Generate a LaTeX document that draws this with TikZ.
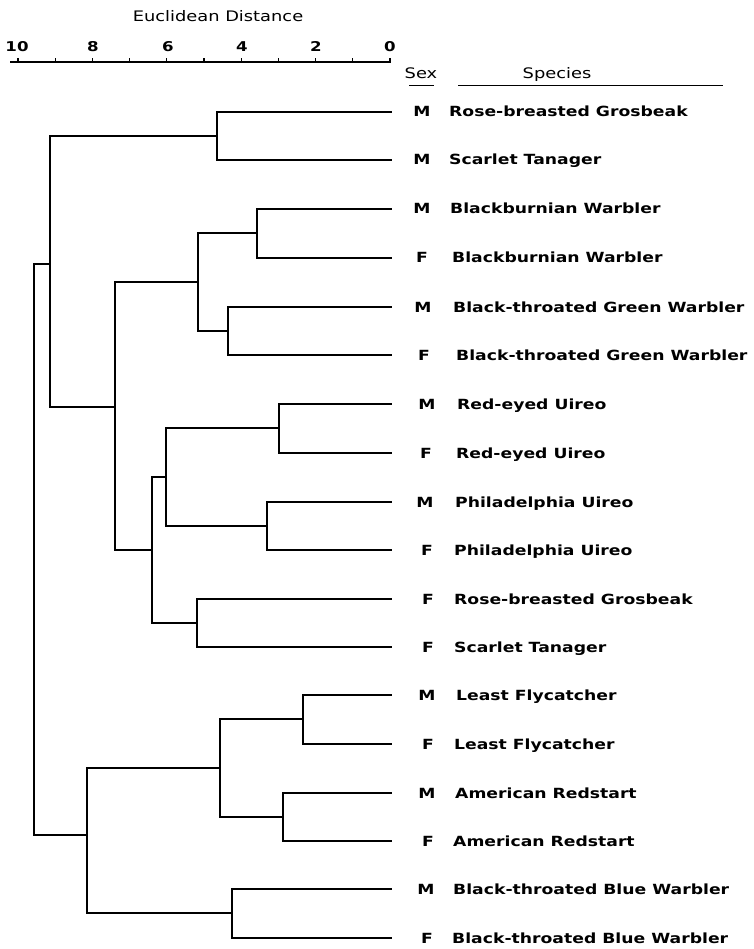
\documentclass[tikz,border=0pt]{standalone}
\usepackage{fontspec}
\setmainfont{DejaVu Sans}
\newfontfamily\widefont[FakeStretch=1.23]{DejaVu Sans}
\tikzset{
  branch/.style={line width=1.8pt, line cap=rect},
  sexlabel/.style={anchor=base, inner sep=0pt, font=\widefont\bfseries\fontsize{14}{14}\selectfont},
  birdlabel/.style={anchor=base west, inner sep=0pt, font=\widefont\bfseries\fontsize{14}{14}\selectfont},
  axislabel/.style={anchor=base, inner sep=0pt, font=\widefont\bfseries\fontsize{13.5}{13.5}\selectfont},
  headlabel/.style={anchor=base, inner sep=0pt, font=\widefont\fontsize{14.5}{14.5}\selectfont}
}

\begin{document}
\begin{tikzpicture}[x=1pt, y=-1pt]
    \useasboundingbox (0,0) rectangle (753,949);

    % Distance axis
    \node[headlabel] (title) at (218,22) {Euclidean Distance};
    \coordinate (axL) at (10,62);
    \coordinate (axR) at (391,62);
    \draw[line width=1.2pt] (axL) -- (axR);
    \foreach \d in {0,...,10}
        \draw[line width=1.2pt] (390-37.2*\d,62) -- ++(0,-4);
    \node[axislabel] (t10) at (17,52) {10};
    \node[axislabel] (t8) at (93,52) {8};
    \node[axislabel] (t6) at (168,52) {6};
    \node[axislabel] (t4) at (242,52) {4};
    \node[axislabel] (t2) at (316,52) {2};
    \node[axislabel] (t0) at (390,52) {0};

    % Column heads
    \node[headlabel] (sexhead) at (421,79) {Sex};
    \node[headlabel] (spechead) at (557,79) {Species};
    \draw[line width=0.9pt] (409,85) -- (434,85);
    \draw[line width=0.9pt] (458,85) -- (723,85);

    % Leaves
    \coordinate (rbgM) at (391,112);
    \coordinate (stM) at (391,160);
    \coordinate (bwM) at (391,209);
    \coordinate (bwF) at (391,258);
    \coordinate (btgwM) at (391,307);
    \coordinate (btgwF) at (391,355);
    \coordinate (revM) at (391,404);
    \coordinate (revF) at (391,453);
    \coordinate (pvM) at (391,502);
    \coordinate (pvF) at (391,550);
    \coordinate (rbgF) at (391,599);
    \coordinate (stF) at (391,647);
    \coordinate (lfM) at (391,695);
    \coordinate (lfF) at (391,744);
    \coordinate (arM) at (391,793);
    \coordinate (arF) at (391,841);
    \coordinate (btbwM) at (391,889);
    \coordinate (btbwF) at (391,938);

    % Sex and species labels
    \node[sexlabel] (s1) at (422,117) {M};
    \node[birdlabel] (n1) at (449,117) {Rose-breasted Grosbeak};
    \node[sexlabel] (s2) at (422,165) {M};
    \node[birdlabel] (n2) at (449,165) {Scarlet Tanager};
    \node[sexlabel] (s3) at (422,214) {M};
    \node[birdlabel] (n3) at (450,214) {Blackburnian Warbler};
    \node[sexlabel] (s4) at (422,263) {F};
    \node[birdlabel] (n4) at (452,263) {Blackburnian Warbler};
    \node[sexlabel] (s5) at (423,312) {M};
    \node[birdlabel] (n5) at (453,312) {Black-throated Green Warbler};
    \node[sexlabel] (s6) at (424,360) {F};
    \node[birdlabel] (n6) at (456,360) {Black-throated Green Warbler};
    \node[sexlabel] (s7) at (427,409) {M};
    \node[birdlabel] (n7) at (457,409) {Red-eyed Uireo};
    \node[sexlabel] (s8) at (426,458) {F};
    \node[birdlabel] (n8) at (456,458) {Red-eyed Uireo};
    \node[sexlabel] (s9) at (425,507) {M};
    \node[birdlabel] (n9) at (455,507) {Philadelphia Uireo};
    \node[sexlabel] (s10) at (427,555) {F};
    \node[birdlabel] (n10) at (454,555) {Philadelphia Uireo};
    \node[sexlabel] (s11) at (428,604) {F};
    \node[birdlabel] (n11) at (454,604) {Rose-breasted Grosbeak};
    \node[sexlabel] (s12) at (428,652) {F};
    \node[birdlabel] (n12) at (454,652) {Scarlet Tanager};
    \node[sexlabel] (s13) at (427,700) {M};
    \node[birdlabel] (n13) at (456,700) {Least Flycatcher};
    \node[sexlabel] (s14) at (428,749) {F};
    \node[birdlabel] (n14) at (454,749) {Least Flycatcher};
    \node[sexlabel] (s15) at (427,798) {M};
    \node[birdlabel] (n15) at (455,798) {American Redstart};
    \node[sexlabel] (s16) at (428,846) {F};
    \node[birdlabel] (n16) at (453,846) {American Redstart};
    \node[sexlabel] (s17) at (426,894) {M};
    \node[birdlabel] (n17) at (453,894) {Black-throated Blue Warbler};
    \node[sexlabel] (s18) at (427,943) {F};
    \node[birdlabel] (n18) at (452,943) {Black-throated Blue Warbler};

    % Joins
    \coordinate (jRS) at (217,136);
    \coordinate (jBW) at (257,233);
    \coordinate (jBTGW) at (228,331);
    \coordinate (jWarb) at (198,282);
    \coordinate (jREV) at (279,428);
    \coordinate (jPV) at (267,526);
    \coordinate (jVireo) at (166,477);
    \coordinate (jRSF) at (197,623);
    \coordinate (jMid) at (152,550);
    \coordinate (jBig) at (115,407);
    \coordinate (jTop) at (50,264);
    \coordinate (jLF) at (303,719);
    \coordinate (jAR) at (283,817);
    \coordinate (jLFAR) at (220,768);
    \coordinate (jBTBW) at (232,913);
    \coordinate (jLow) at (87,835);
    \coordinate (jRoot) at (34,550);

    \draw[branch] (jRS) |- (rbgM);
    \draw[branch] (jRS) |- (stM);
    \draw[branch] (jBW) |- (bwM);
    \draw[branch] (jBW) |- (bwF);
    \draw[branch] (jBTGW) |- (btgwM);
    \draw[branch] (jBTGW) |- (btgwF);
    \draw[branch] (jWarb) |- (jBW);
    \draw[branch] (jWarb) |- (jBTGW);
    \draw[branch] (jREV) |- (revM);
    \draw[branch] (jREV) |- (revF);
    \draw[branch] (jPV) |- (pvM);
    \draw[branch] (jPV) |- (pvF);
    \draw[branch] (jVireo) |- (jREV);
    \draw[branch] (jVireo) |- (jPV);
    \draw[branch] (jRSF) |- (rbgF);
    \draw[branch] (jRSF) |- (stF);
    \draw[branch] (jMid) |- (jVireo);
    \draw[branch] (jMid) |- (jRSF);
    \draw[branch] (jBig) |- (jWarb);
    \draw[branch] (jBig) |- (jMid);
    \draw[branch] (jTop) |- (jRS);
    \draw[branch] (jTop) |- (jBig);
    \draw[branch] (jLF) |- (lfM);
    \draw[branch] (jLF) |- (lfF);
    \draw[branch] (jAR) |- (arM);
    \draw[branch] (jAR) |- (arF);
    \draw[branch] (jLFAR) |- (jLF);
    \draw[branch] (jLFAR) |- (jAR);
    \draw[branch] (jBTBW) |- (btbwM);
    \draw[branch] (jBTBW) |- (btbwF);
    \draw[branch] (jLow) |- (jLFAR);
    \draw[branch] (jLow) |- (jBTBW);
    \draw[branch] (jRoot) |- (jTop);
    \draw[branch] (jRoot) |- (jLow);

\end{tikzpicture}
\end{document}
